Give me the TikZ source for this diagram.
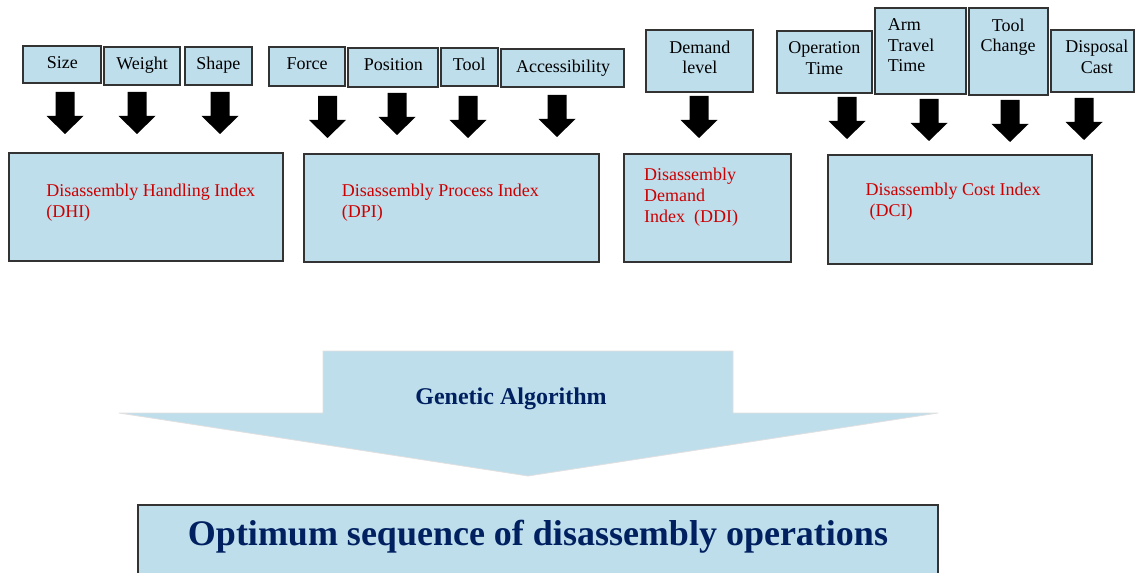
\documentclass[tikz,border=0pt]{standalone}
\usepackage{fontspec}
\setmainfont{Liberation Serif}
\usetikzlibrary{fit}
\definecolor{boxblue}{RGB}{190,222,236}
\definecolor{idxred}{RGB}{204,0,0}
\definecolor{navy}{RGB}{0,32,96}
\begin{document}
\begin{tikzpicture}[x=0.75pt,y=-0.75pt,
  box/.style={draw=black!80, line width=0.8pt, fill=boxblue, inner sep=0pt},
  lab/.style={font=\fontsize{13.5}{15.6}\selectfont, inner sep=0pt, text=black},
  idx/.style={font=\fontsize{13.5}{15.75}\selectfont, inner sep=0pt, text=idxred, align=left, anchor=north west},
  downarrow/.pic={\fill[black] (-9.5,0) -- (9.5,0) -- (9.5,24) -- (18.5,24) -- (0,42) -- (-18.5,24) -- (-9.5,24) -- cycle;}
]
\clip (0,0) rectangle (1137,573);
\fill[white] (0,0) rectangle (1137,573);

% input boxes
\node[box, fit={(23,46)(101,83)}] (size) {};
\node[box, fit={(104,47)(180,85)}] (weight) {};
\node[box, fit={(185,47)(252,85)}] (shape) {};
\node[box, fit={(269,47)(345,86)}] (force) {};
\node[box, fit={(348,48)(438,87)}] (position) {};
\node[box, fit={(441,48)(498,86)}] (tool) {};
\node[box, fit={(501,49)(624,87)}] (access) {};
\node[box, fit={(646,30)(753,92)}] (demand) {};
\node[box, fit={(777,31)(872,93)}] (optime) {};
\node[box, fit={(875,8)(966,94)}] (arm) {};
\node[box, fit={(969,8)(1048,95)}] (toolch) {};
\node[box, fit={(1051,30)(1134,92)}] (disposal) {};

% input labels
\node[lab, anchor=base] (size-t) at (62.3,68.3) {Size};
\node[lab, anchor=base] (weight-t) at (142.2,70) {Weight};
\node[lab, anchor=base] (shape-t) at (218.3,70) {Shape};
\node[lab, anchor=base] (force-t) at (307,70) {Force};
\node[lab, anchor=base] (position-t) at (393.3,70.7) {Position};
\node[lab, anchor=base] (tool-t) at (469.3,70.7) {Tool};
\node[lab, anchor=base] (access-t) at (563,72.3) {Accessibility};
\node[lab, anchor=north, align=center] (demand-t) at (699.8,40.3) {Demand\\level};
\node[lab, anchor=north, align=center] (optime-t) at (824.3,41.3) {Operation\\Time};
\node[lab, anchor=north west, align=left] (arm-t) at (887.7,18.1) {Arm\\Travel\\Time};
\node[lab, anchor=north, align=center] (toolch-t) at (1008.2,18.4) {Tool\\Change};
\node[lab, anchor=north, align=center] (disposal-t) at (1096.9,40) {Disposal\\Cast};

% block arrows
\pic at (65,92) {downarrow};
\pic at (137,92) {downarrow};
\pic at (220,92) {downarrow};
\pic at (327.5,96) {downarrow};
\pic at (397,93) {downarrow};
\pic at (468,96) {downarrow};
\pic at (557,95) {downarrow};
\pic at (699,96) {downarrow};
\pic at (847,97) {downarrow};
\pic at (929,99) {downarrow};
\pic at (1010,100) {downarrow};
\pic at (1084,98) {downarrow};

% index boxes
\node[box, fit={(9,153)(283,261)}] (dhi) {};
\node[box, fit={(304,154)(599,262)}] (dpi) {};
\node[box, fit={(624,154)(791,262)}] (ddi) {};
\node[box, fit={(828,155)(1092,264)}] (dci) {};

\node[idx] (dhi-t) at (46,183.4) {Disassembly Handling Index\\(DHI)};
\node[idx] (dpi-t) at (341.7,183.4) {Disassembly Process Index\\(DPI)};
\node[idx] (ddi-t) at (643.8,167.7) {Disassembly\\Demand\\Index\ \ (DDI)};
\node[idx] (dci-t) at (865.4,182.7) {Disassembly Cost Index\\\hspace*{3pt}(DCI)};

% big arrow
\draw[draw=black!12, line width=0.6pt, fill=boxblue] (323,351) -- (733,351) -- (733,413) -- (938,413) -- (528,476) -- (119,413) -- (323,413) -- cycle;
\node[font=\fontsize{18}{21}\selectfont\bfseries, text=navy, anchor=base, inner sep=0pt] (ga) at (511,404) {Genetic Algorithm};

% result box
\node[box, fit={(138,505)(938,600)}] (opt) {};
\node[font=\fontsize{27}{32}\selectfont\bfseries, text=navy, anchor=base, inner sep=0pt] (opt-t) at (538,545) {Optimum sequence of disassembly operations};
\end{tikzpicture}
\end{document}
